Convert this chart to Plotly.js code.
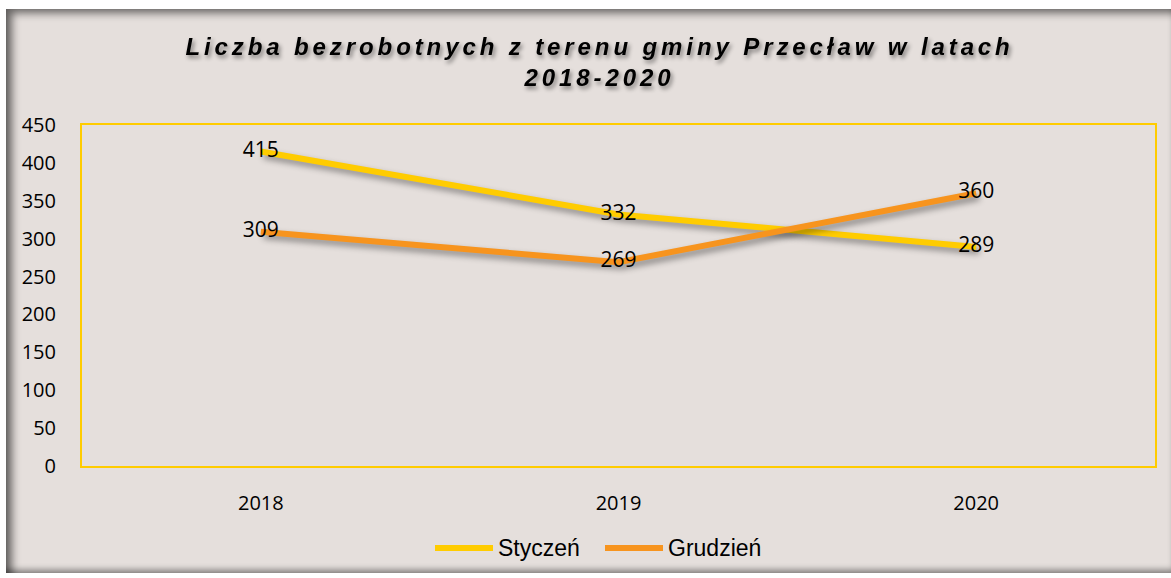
<!DOCTYPE html>
<html>
<head>
<meta charset="utf-8">
<script src="https://cdn.plot.ly/plotly-3.0.1.min.js"></script>
<style>
  html, body { margin:0; padding:0; background:#ffffff; width:1171px; height:578px; overflow:hidden; }
  #frame { position:absolute; left:6px; top:9px; width:1165px; height:564px; background:#E5DFDC;
           box-shadow: inset 9px 7px 9px -3px rgba(0,0,0,0.55), inset 0 -6px 6px -3px rgba(0,0,0,0.45); }
  #chart { position:absolute; left:0; top:0; width:1171px; height:578px; }
  .gtitle { letter-spacing: 3.9px; filter: drop-shadow(2px 3px 2px rgba(0,0,0,0.45)); }
  .scatterlayer .js-line { filter: drop-shadow(3px 4px 3px rgba(0,0,0,0.4)); }
</style>
</head>
<body>
<div id="frame"></div>
<div id="chart"></div>
<script>
const years = ['2018', '2019', '2020'];
const styczen = [415, 332, 289];
const grudzien = [309, 269, 360];
const yTicks = [0, 50, 100, 150, 200, 250, 300, 350, 400, 450];
const seriesNames = ['Styczeń', 'Grudzień'];
const seriesColors = ['#FFCC00', '#F7941E'];

const labelFont = {family: 'Open Sans, sans-serif', size: 21, color: '#000000'};

const traces = [styczen, grudzien].map((vals, i) => ({
  x: years, y: vals, name: seriesNames[i], type: 'scatter', mode: 'lines+text',
  line: {color: seriesColors[i], width: 6}, text: vals.map(String), textposition: 'middle center',
  textfont: labelFont, cliponaxis: false, hoverinfo: 'skip', showlegend: false
}));

// custom legend (longer line symbols as in the reference)
const plotL = 82, plotW = 1073, plotB = 466, plotH = 341;
const px = v => (v - plotL) / plotW;
const py = v => (plotB - v) / plotH;
const legY = 548;
const legItems = [{x0: 435, x1: 493, tx: 496}, {x0: 605, x1: 663, tx: 666}];
const shapes = legItems.map((it, i) => ({
  type: 'line', xref: 'paper', yref: 'paper', x0: px(it.x0), x1: px(it.x1), y0: py(legY), y1: py(legY),
  line: {color: seriesColors[i], width: 6}
}));
const annotations = legItems.map((it, i) => ({
  xref: 'paper', yref: 'paper', x: px(it.tx), y: py(legY), xanchor: 'left', yanchor: 'middle',
  text: seriesNames[i], showarrow: false,
  font: {family: 'Liberation Sans, Arial, sans-serif', size: 23, color: '#000'}
}));

const layout = {
  width: 1171, height: 578,
  paper_bgcolor: 'rgba(0,0,0,0)', plot_bgcolor: 'rgba(0,0,0,0)',
  margin: {l: 82, r: 16, t: 125, b: 112},
  title: {text: 'Liczba bezrobotnych z terenu gminy Przecław w latach<br>2018-2020',
          font: {family: 'Liberation Sans, Arial, sans-serif', size: 24, color: '#000000', weight: 'bold', style: 'italic'},
          x: 0.512, xanchor: 'center', y: 0.905, yanchor: 'top'},
  xaxis: {type: 'category', range: [-0.5, 2.5], showgrid: false, zeroline: false,
          showline: true, mirror: true, linecolor: '#FFCC00', linewidth: 2,
          ticks: '', ticklabelstandoff: 18, tickfont: {family: 'Open Sans, sans-serif', size: 20, color: '#000'}},
  yaxis: {range: [0, 450], tickvals: yTicks, ticktext: yTicks.map(String), showgrid: false, zeroline: false,
          showline: true, mirror: true, linecolor: '#FFCC00', linewidth: 2,
          ticks: '', ticklabelstandoff: 20, tickfont: {family: 'Open Sans, sans-serif', size: 20, color: '#000'}},
  showlegend: false,
  shapes: shapes,
  annotations: annotations
};

Plotly.newPlot('chart', traces, layout, {displayModeBar: false, staticPlot: true});
</script>
</body>
</html>
